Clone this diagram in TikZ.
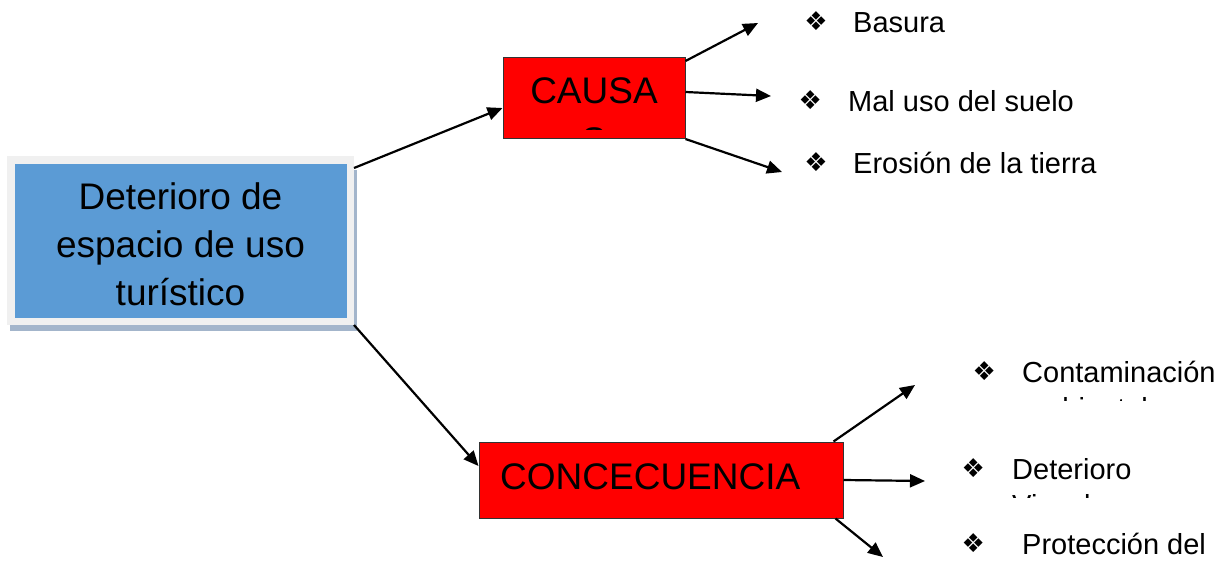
\documentclass[tikz,border=0pt]{standalone}
\usepackage{fontspec}
\setmainfont{Liberation Sans}
\newfontfamily\symfont{DejaVu Sans}
\usetikzlibrary{positioning,arrows.meta,backgrounds}
\definecolor{temaBlue}{HTML}{5B9BD5}
\definecolor{temaFrame}{HTML}{F0F0F0}
\definecolor{temaShadow}{HTML}{A3B5CB}
\definecolor{boxRed}{HTML}{FF0000}
\definecolor{boxEdge}{HTML}{333333}
\newcommand{\bigtxt}{\fontsize{37}{48}\selectfont}
\newcommand{\smalltxt}{\fontsize{29}{35}\selectfont}
\tikzset{
  temanode/.style={fill=temaBlue, draw=temaFrame, line width=7.5pt,
                   minimum width=339.5pt, minimum height=161.5pt,
                   align=center, font=\bigtxt, inner sep=0pt},
  rojonode/.style={fill=boxRed, draw=boxEdge, line width=1pt, inner sep=0pt},
  bigtext/.style={font=\bigtxt, inner sep=0pt, anchor=base},
  itemtext/.style={font=\smalltxt, inner sep=0pt, text height=21pt,
                   text depth=0pt, anchor=base west},
  vineta/.style={font=\symfont\fontsize{26}{26}\selectfont, inner sep=0pt},
  stdarrow/.style={-{Triangle[length=15pt,width=13pt]}, line width=2.2pt},
}

\begin{document}
\begin{tikzpicture}[x=1pt, y=-1pt]
\useasboundingbox (0,0) rectangle (1224,563);

%% Tema central
\node[temanode] (tema) at (180.5,240.5)
  {\rule{0pt}{35pt}Deterioro de\\espacio de uso\\turístico};
\begin{scope}[on background layer]
  \fill[temaShadow] ([xshift=3pt,yshift=-6pt]tema.south west)
    rectangle ([xshift=3pt,yshift=-14pt]tema.north east);
\end{scope}

%% Causas
\node[rojonode, minimum width=182pt, minimum height=81pt] (causa) at (594,98) {};
\node[bigtext] (causatxt) at (594,103) {CAUSA};
\begin{scope}
  \clip (causa.north west) rectangle ([yshift=10pt]causa.south east);
  \node[bigtext] (causas) at (594,153) {S};
\end{scope}

\node[itemtext] (basura) at (853,32) {Basura};
\node[vineta, left=25pt of basura] (vbasura) {❖};
\node[itemtext] (maluso) at (848,111) {Mal uso del suelo};
\node[vineta, left=26pt of maluso] (vmaluso) {❖};
\node[itemtext] (erosion) at (853,173) {Erosión de la tierra};
\node[vineta, left=25pt of erosion] (verosion) {❖};

%% Consecuencias
\node[rojonode, minimum width=364pt, minimum height=76pt] (conse) at (661,480) {};
\node[bigtext, anchor=base west] (consetxt) at (500,489) {CONCECUENCIA};

\node[itemtext] (contam) at (1022,382) {Contaminación};
\node[vineta, left=26pt of contam] (vcontam) {❖};
\begin{scope}
  \clip (1000,350) rectangle (1224,400);
  \node[itemtext] (ambiental) at (1022,418) {ambiental};
\end{scope}
\node[itemtext] (deter) at (1012,479) {Deterioro};
\node[vineta, left=27pt of deter] (vdeter) {❖};
\begin{scope}
  \clip (1000,450) rectangle (1224,497);
  \node[itemtext] (visual) at (1012,515) {Visual};
\end{scope}
\node[itemtext] (protec) at (1022,554) {Protección del};
\node[vineta, left=37pt of protec] (vprotec) {❖};

%% Flechas
\coordinate (fBasura) at (758,23);
\coordinate (fMaluso) at (771,96);
\coordinate (fErosion) at (782,172);
\coordinate (fContam) at (915,385);
\coordinate (fDeter) at (925,481);
\coordinate (fProtec) at (883,557);

\draw[stdarrow] ([yshift=-12pt]tema.north east) -- ([yshift=-10pt]causa.west);
\draw[stdarrow] (tema.south east) -- ([yshift=14pt]conse.west);
\draw[stdarrow] ([yshift=-4pt]causa.north east) -- (fBasura);
\draw[stdarrow] ([yshift=6pt]causa.east) -- (fMaluso);
\draw[stdarrow] (causa.south east) -- (fErosion);
\draw[stdarrow] ([xshift=-10pt]conse.north east) -- (fContam);
\draw[stdarrow] (conse.east) -- (fDeter);
\draw[stdarrow] ([xshift=-8pt]conse.south east) -- (fProtec);
\end{tikzpicture}
\end{document}
